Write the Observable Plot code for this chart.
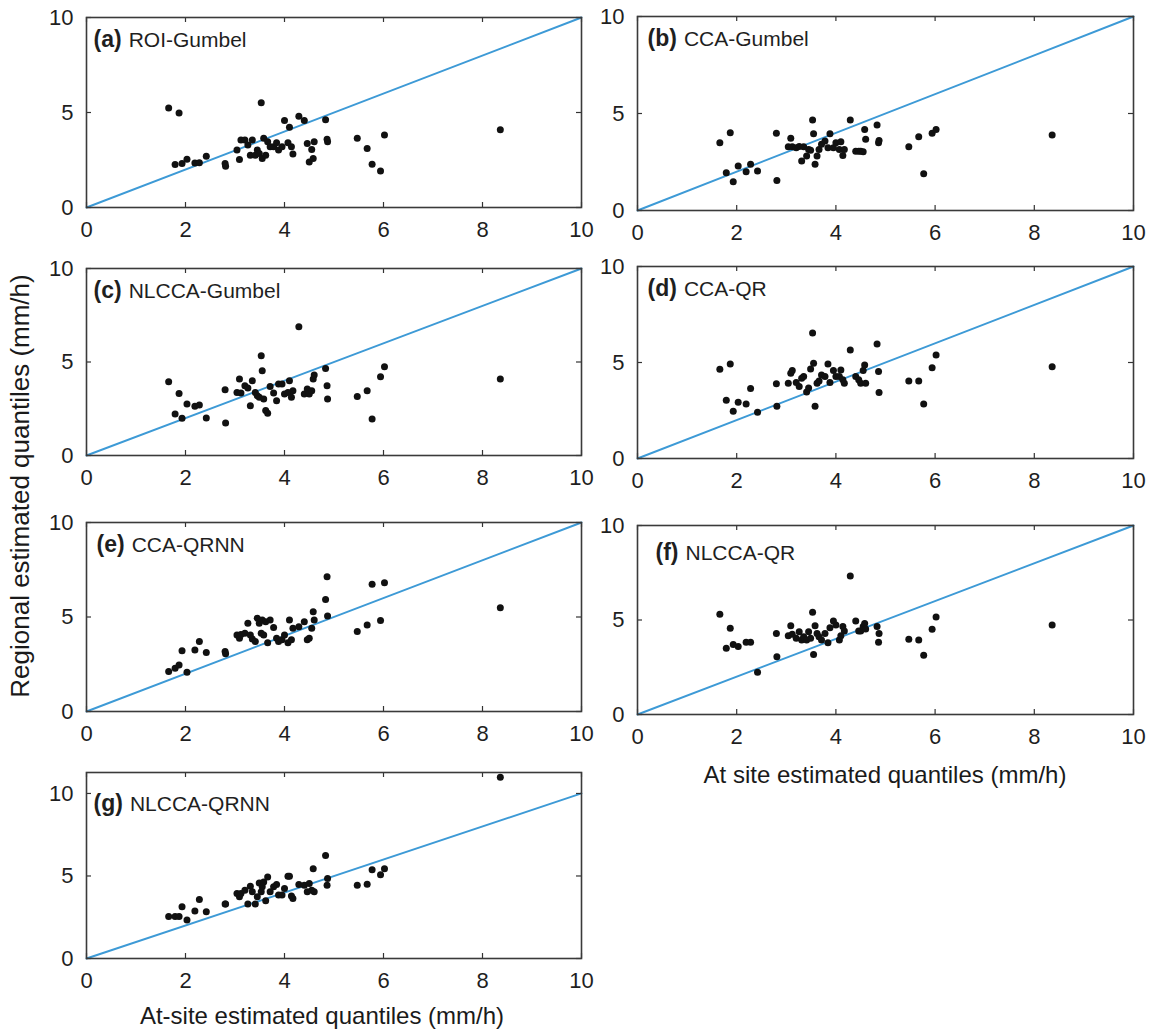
<!DOCTYPE html>
<html><head><meta charset="utf-8">
<script src="https://cdn.jsdelivr.net/npm/d3@7"></script>
<script src="https://cdn.jsdelivr.net/npm/@observablehq/plot@0.6"></script>
<style>
body{margin:0;background:#fff;}
#wrap{position:relative;width:1149px;height:1032px;font-family:"Liberation Sans",Arial,Helvetica,sans-serif;color:#1a1a1a;overflow:hidden;}
#wrap svg{position:absolute;}
.lbl{position:absolute;white-space:nowrap;transform:translate(-50%,-50%);}
</style></head><body><div id="wrap"></div>
<script>
// Shared at-site estimated quantiles (mm/h), one per station
const atSite = [1.66,1.79,1.87,1.93,2.03,2.19,2.28,2.42,2.80,2.81,3.04,3.09,3.12,3.20,3.26,3.31,3.35,3.41,3.45,3.49,3.53,3.55,3.58,3.62,3.66,3.71,3.78,3.84,3.88,3.95,4.00,4.07,4.10,4.14,4.17,4.29,4.40,4.46,4.50,4.55,4.58,4.60,4.83,4.86,4.87,5.47,5.67,5.77,5.94,6.02,8.36];
// Regional estimates per method
const roiGumbel = [5.24,2.26,4.97,2.31,2.54,2.34,2.36,2.70,2.31,2.17, 3.02,2.52,3.55,3.55,3.29,2.75,3.55,2.75,3.02,2.84, 5.51,2.58,3.64,2.75,3.46,3.20,3.20,3.41,3.02,3.20, 4.58,3.41,4.23,3.20,2.81,4.80,4.58,3.37,2.40,3.05, 2.58,3.46,4.62,3.59,3.46,3.64,3.11,2.27,1.92,3.82,4.09];
const ccaGumbel = [3.49,1.94,4.01,1.48,2.29,2.00,2.38,2.03,3.98,1.55, 3.29,3.72,3.29,3.24,3.30,2.55,3.29,2.81,3.15,3.10, 4.66,3.96,2.38,2.81,3.15,3.41,3.58,3.24,3.96,3.24, 3.49,3.15,3.55,2.84,3.15,4.66,3.06,3.06,3.06,3.03, 4.18,3.67,4.41,3.49,3.61,3.29,3.80,1.89,3.98,4.18,3.89];
const nlccaGumbel = [3.94,2.22,3.32,1.99,2.75,2.63,2.70,2.01,3.52,1.74, 3.37,4.09,3.34,3.73,3.61,2.66,4.00,3.37,3.20,3.11, 5.33,4.53,3.02,2.40,2.26,3.69,3.34,2.93,3.82,3.82, 3.29,3.37,4.00,3.11,3.46,6.89,3.29,3.55,3.29,3.46, 4.09,4.30,4.65,3.73,3.02,3.16,3.46,1.95,4.21,4.74,4.09];
const ccaQR = [4.65,3.03,4.92,2.46,2.93,2.84,3.65,2.41,3.89,2.72, 3.92,4.44,4.58,3.96,3.75,4.18,4.27,3.46,3.67,4.66, 6.54,4.96,2.72,3.92,4.04,4.35,4.27,4.92,3.96,4.58, 4.27,4.27,4.61,4.10,3.92,5.65,4.27,4.10,3.92,4.58, 4.87,3.92,5.96,4.53,3.44,4.04,4.04,2.84,4.73,5.39,4.78];
const ccaQRNN = [2.11,2.29,2.46,3.22,2.08,3.26,3.70,3.12,3.17,3.05, 4.05,3.87,4.08,4.14,4.67,4.05,3.84,3.70,4.93,4.67, 4.14,4.84,4.05,4.75,3.64,4.84,4.44,3.87,3.70,3.79, 4.05,3.64,4.84,3.79,4.40,4.49,4.75,3.79,3.87,4.40, 5.28,4.84,5.93,7.13,5.05,4.23,4.58,6.73,4.81,6.81,5.49];
const nlccaQR = [5.30,3.50,4.56,3.71,3.60,3.82,3.82,2.23,4.29,3.06, 4.17,4.70,4.24,4.03,4.38,3.94,4.12,3.94,4.38,4.03, 5.41,3.18,4.70,4.29,4.12,3.94,4.29,3.80,4.59,4.95, 4.73,3.94,4.17,4.65,4.42,7.33,4.95,4.42,4.42,4.65, 4.82,4.52,4.65,3.82,4.29,3.98,3.94,3.14,4.51,5.16,4.73];
const nlccaQRNN = [2.54,2.54,2.54,3.14,2.34,2.88,3.58,2.84,3.30,3.30, 3.94,3.74,3.94,4.14,3.30,4.38,4.04,3.30,3.74,4.58, 4.04,4.34,4.64,3.50,4.94,4.04,4.34,4.48,3.84,3.84, 4.24,4.98,4.98,3.78,3.64,4.48,4.44,4.04,4.54,4.14, 5.44,4.04,6.24,4.44,4.84,4.44,4.50,5.38,5.08,5.44,10.98];

const panelTags = ["(a)","(b)","(c)","(d)","(e)","(f)","(g)"];
const panelNames = ["ROI-Gumbel","CCA-Gumbel","NLCCA-Gumbel","CCA-QR","CCA-QRNN","NLCCA-QR","NLCCA-QRNN"];
const panelSeries = [roiGumbel, ccaGumbel, nlccaGumbel, ccaQR, ccaQRNN, nlccaQR, nlccaQRNN];
const xTicks = [0,2,4,6,8,10];
const yTicks = [0,5,10];
const diagonal = [0,10];
const yAxisLabel = "Regional estimated quantiles (mm/h)";
const xAxisLabelBottom = "At-site estimated quantiles (mm/h)";
const xAxisLabelRight = "At site estimated quantiles (mm/h)";

const FONT = '"Liberation Sans", Arial, Helvetica, sans-serif';
const INK = "#1f1f1f";
// frame boxes (px) of each panel in the page
const boxes = [
  {L:86, R:581, T:17, B:207, ymax:10, tx:7, ty:22},
  {L:637, R:1133, T:16, B:210, ymax:10, tx:10, ty:22},
  {L:86, R:581, T:268, B:455, ymax:10, tx:7, ty:22},
  {L:637, R:1133, T:266, B:458, ymax:10, tx:10, ty:22},
  {L:86, R:581, T:522, B:711, ymax:10, tx:10, ty:22},
  {L:637, R:1133, T:525, B:714, ymax:10, tx:18, ty:27},
  {L:86, R:581, T:772, B:958, ymax:11.27, tx:7, ty:31}
];

const wrap = document.getElementById("wrap");
const mL = 70, mR = 30, mT = 12, mB = 45;

panelSeries.forEach((ys, i) => {
  const b = boxes[i];
  const W = b.R - b.L, H = b.B - b.T;
  const pts = atSite.map((x, j) => ({x, y: ys[j]}));
  const svg = Plot.plot({
    width: W + mL + mR, height: H + mT + mB,
    marginLeft: mL, marginRight: mR, marginTop: mT, marginBottom: mB,
    style: {background: "transparent", overflow: "visible", fontFamily: FONT, fontSize: "22px", color: INK},
    x: {domain: [0, 10], ticks: xTicks, label: null},
    y: {domain: [0, b.ymax], ticks: yTicks, label: null},
    marks: [
      Plot.line(diagonal, {x: d => d, y: d => d, stroke: "#3d9ad6", strokeWidth: 1.9}),
      Plot.dot(pts, {x: "x", y: "y", r: 3.5, fill: "#111", stroke: null}),
      Plot.tickX(xTicks, {x: d => d, insetTop: H - 5, stroke: "#333", strokeWidth: 1.2}),
      Plot.tickX(xTicks, {x: d => d, insetBottom: H - 5, stroke: "#333", strokeWidth: 1.2}),
      Plot.tickY(yTicks, {y: d => d, insetRight: W - 5, stroke: "#333", strokeWidth: 1.2}),
      Plot.tickY(yTicks, {y: d => d, insetLeft: W - 5, stroke: "#333", strokeWidth: 1.2}),
      Plot.frame({stroke: "#3a3a3a", strokeWidth: 1.6}),
      Plot.axisX({ticks: xTicks, tickSize: 0, tickPadding: 14, fontSize: 22, fill: INK, label: null}),
      Plot.axisY({ticks: yTicks, tickSize: 0, tickPadding: 13, fontSize: 22, fill: INK, label: null}),
      Plot.text([panelTags[i] + " " + panelNames[i]], {frameAnchor: "top-left", dx: b.tx, dy: b.ty, textAnchor: "start", lineAnchor: "middle", fill: INK})
    ]
  });
  svg.style.left = (b.L - mL) + "px";
  svg.style.top = (b.T - mT) + "px";
  const t = d3.select(svg).select('g[aria-label="text"] text');
  if (!t.empty()) {
    t.text(null);
    t.append("tspan").attr("font-weight", "bold").attr("font-size", 23).text(panelTags[i]);
    t.append("tspan").attr("font-size", 21).attr("dx", 7).text(panelNames[i]);
  }
  wrap.appendChild(svg);
});

function addLabel(text, x, y, size, rotate) {
  const d = document.createElement("div");
  d.className = "lbl";
  d.textContent = text;
  d.style.left = x + "px";
  d.style.top = y + "px";
  d.style.fontSize = size + "px";
  if (rotate) d.style.transform = "translate(-50%,-50%) rotate(-90deg)";
  wrap.appendChild(d);
}
addLabel(yAxisLabel, 20, 486, 26, true);
addLabel(xAxisLabelBottom, 322, 1016, 24, false);
addLabel(xAxisLabelRight, 885, 775, 24, false);
</script></body></html>
